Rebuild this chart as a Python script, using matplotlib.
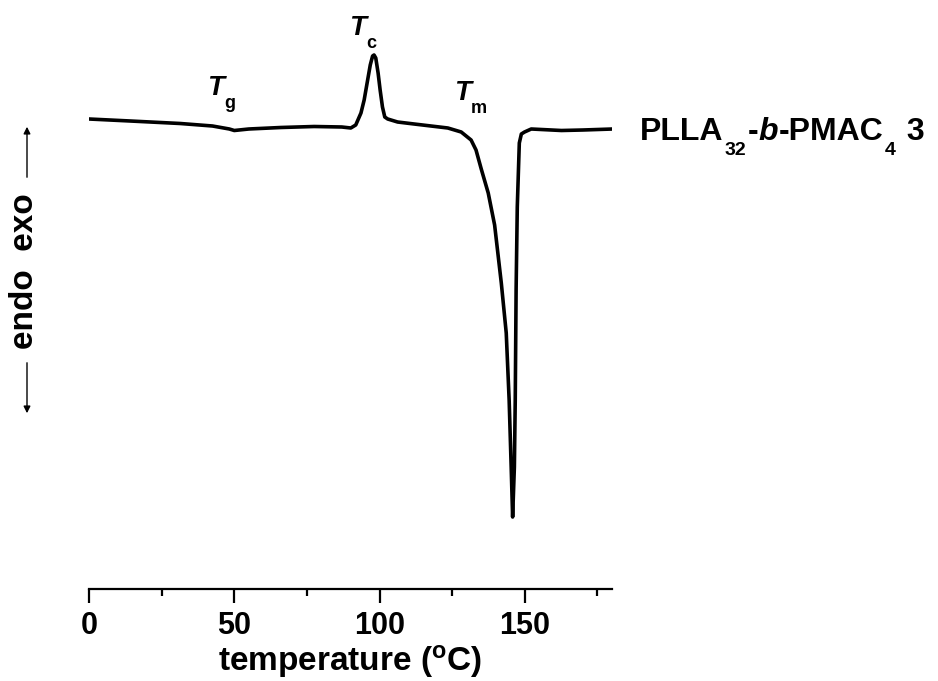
"""DSC trace of PLLA32-b-PMAC4 3 (second heating)."""

import matplotlib
matplotlib.use("Agg")
import matplotlib.pyplot as plt
from matplotlib.transforms import IdentityTransform

# --- Data ---
temperature = [0.0, 14.2, 31.4, 42.5, 48.3, 50.0, 55.0, 66.0, 77.5, 87.0,
               90.1, 91.8, 93.6, 94.7, 95.9, 96.8, 97.6, 98.1, 98.7, 99.5,
               100.2, 101.0, 101.8, 102.8, 106.2, 111.9, 117.7, 123.5, 128.1, 131.5,
               133.2, 135.0, 137.4, 139.6, 141.9, 143.6, 144.6, 145.3, 145.8, 146.4,
               146.7, 147.0, 147.4, 148.1, 148.8, 149.9, 152.2, 162.6, 170.0, 180.2]
heat_flow = [4.70, 4.68, 4.655, 4.63, 4.60, 4.585, 4.60, 4.615, 4.625, 4.62,
             4.61, 4.64, 4.76, 4.89, 5.09, 5.24, 5.33, 5.34, 5.31, 5.16,
             4.99, 4.82, 4.72, 4.70, 4.67, 4.65, 4.63, 4.61, 4.57, 4.49,
             4.39, 4.20, 3.96, 3.64, 3.06, 2.56, 1.89, 1.22, 0.72, 1.22,
             1.89, 3.00, 3.82, 4.46, 4.55, 4.57, 4.60, 4.585, 4.59, 4.60]

XTICKS = [0, 50, 100, 150]
MINOR_XTICKS = [25, 75, 125, 175]

# label pieces: (text, size, style, dx px, dy px)
SAMPLE_PIECES = [("PLLA", 23, "normal", 0, 0), ("32", 14, "normal", 1, -15),
                 ("-", 23, "normal", 2, 0), ("b", 23, "italic", 0, 0),
                 ("-PMAC", 23, "normal", 0, 0), ("4", 14, "normal", 2, -15),
                 (" 3", 23, "normal", 2, 0)]
TRANSITIONS = [("g", 40.7, 4.94), ("c", 89.4, 5.54), ("m", 125.6, 4.89)]

# --- Style ---
plt.rcParams.update({
    "font.family": "Liberation Sans",
    "font.weight": "bold",
    "mathtext.fontset": "custom",
    "mathtext.rm": "Liberation Sans:bold",
    "mathtext.it": "Liberation Sans:bold:italic",
    "mathtext.bf": "Liberation Sans:bold",
})

fig = plt.figure(figsize=(9.38, 6.81), dpi=100)
ax = fig.add_axes([89 / 938, 1 - 589 / 681, 523 / 938, 549 / 681])
renderer = fig.canvas.get_renderer()


def rich_text(x, y, pieces):
    """Draw text pieces one after another, starting at display pixel (x, y baseline)."""
    for s, size, style, dx, dy in pieces:
        t = fig.text(x + dx, y + dy, s, fontsize=size, style=style, fontweight="bold",
                     ha="left", va="baseline", transform=IdentityTransform())
        x = t.get_window_extent(renderer).x1


ax.plot(temperature, heat_flow, color="black", lw=2.6, solid_joinstyle="round")

ax.set_xlim(0, 180)
ax.set_ylim(0, 5.49)
for side in ["top", "right", "left"]:
    ax.spines[side].set_visible(False)
ax.spines["bottom"].set_linewidth(1.6)
ax.set_yticks([])
ax.set_xticks(XTICKS)
ax.set_xticks(MINOR_XTICKS, minor=True)
ax.tick_params(axis="x", which="major", direction="out", length=10, width=1.6,
               labelsize=22, pad=6)
ax.tick_params(axis="x", which="minor", direction="out", length=5, width=1.6)
for lab in ax.get_xticklabels():
    lab.set_fontweight("bold")

ax.set_xlabel(r"temperature ($^\mathrm{o}$C)", fontsize=24, fontweight="bold", labelpad=1)

# transition labels (T italic, subscript dropped well below)
for sub, tx, ty in TRANSITIONS:
    px, py = ax.transData.transform((tx, ty))
    rich_text(px, py, [("T", 20, "italic", 0, 0), (sub, 13, "normal", 0, -13)])

# sample name to the right of the trace
rich_text(640, 681 - 140, SAMPLE_PIECES)

# endo / exo indicator
fig.text(25 / 938, 1 - 271 / 681, "endo  exo", fontsize=24, rotation=90,
         ha="center", va="center")
arrow = dict(arrowstyle="-|>", color="black", lw=1.0, mutation_scale=10)
ax.annotate("", xy=(27 / 938, 1 - 124 / 681), xytext=(27 / 938, 1 - 180 / 681),
            xycoords="figure fraction", textcoords="figure fraction", arrowprops=arrow)
ax.annotate("", xy=(27 / 938, 1 - 416 / 681), xytext=(27 / 938, 1 - 360 / 681),
            xycoords="figure fraction", textcoords="figure fraction", arrowprops=arrow)

fig.savefig("out.png", dpi=100)
